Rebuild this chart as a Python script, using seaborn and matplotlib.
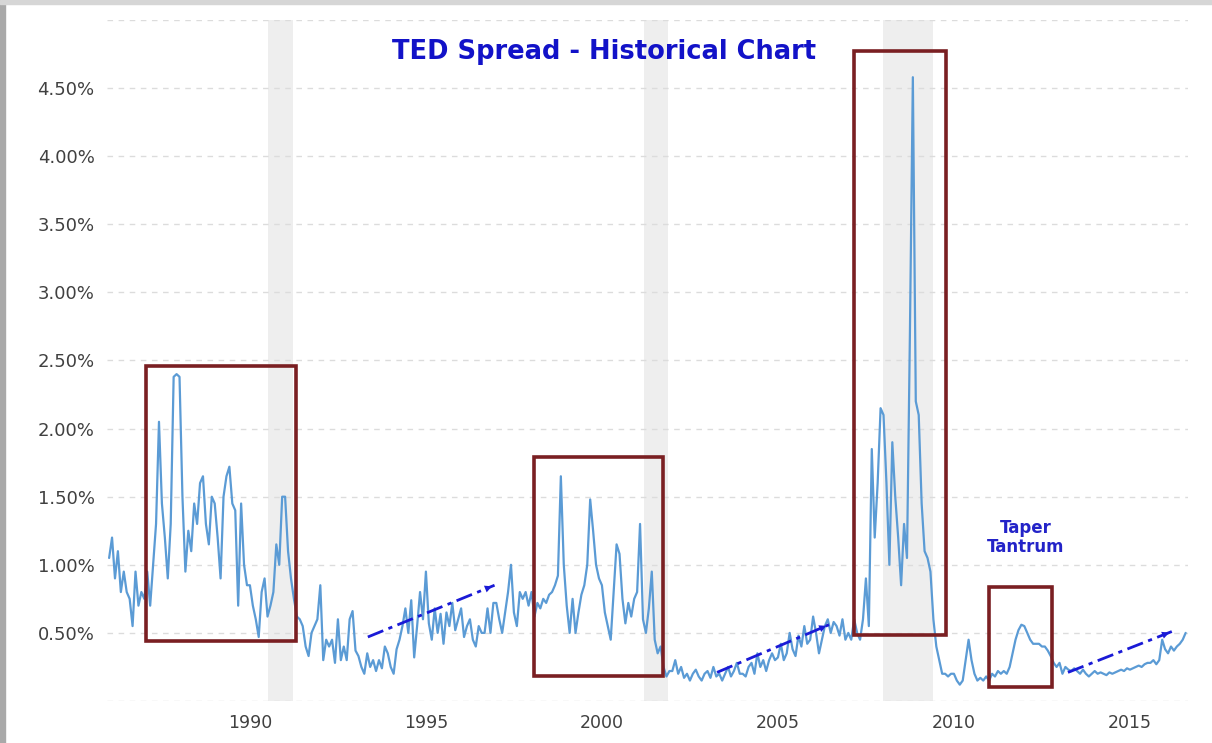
import numpy as np
import pandas as pd
import seaborn as sns
import matplotlib.pyplot as plt
from matplotlib.patches import Rectangle

# monthly TED spread (%), Jan 1986 onwards
start_year = 1986
spread = [
    1.05, 1.20, 0.90, 1.10, 0.80, 0.95, 0.80, 0.75, 0.55, 0.95, 0.70, 0.80,  # 1986
    0.75, 0.95, 0.70, 1.00, 1.30, 2.05, 1.45, 1.20, 0.90, 1.30, 2.38, 2.40,  # 1987
    2.38, 1.50, 0.95, 1.25, 1.10, 1.45, 1.30, 1.60, 1.65, 1.30, 1.15, 1.50,  # 1988
    1.45, 1.20, 0.90, 1.50, 1.65, 1.72, 1.45, 1.40, 0.70, 1.45, 1.00, 0.85,  # 1989
    0.85, 0.70, 0.60, 0.47, 0.80, 0.90, 0.62, 0.70, 0.80, 1.15, 1.00, 1.50,  # 1990
    1.50, 1.10, 0.90, 0.75, 0.62, 0.60, 0.55, 0.40, 0.33, 0.50, 0.55, 0.60,  # 1991
    0.85, 0.30, 0.45, 0.40, 0.45, 0.28, 0.60, 0.30, 0.40, 0.30, 0.60, 0.66,  # 1992
    0.37, 0.33, 0.25, 0.20, 0.35, 0.25, 0.30, 0.22, 0.30, 0.24, 0.40, 0.35,  # 1993
    0.25, 0.20, 0.38, 0.45, 0.55, 0.68, 0.50, 0.74, 0.32, 0.55, 0.80, 0.60,  # 1994
    0.95, 0.57, 0.45, 0.68, 0.50, 0.64, 0.42, 0.65, 0.55, 0.72, 0.52, 0.60,  # 1995
    0.68, 0.47, 0.55, 0.60, 0.45, 0.40, 0.55, 0.50, 0.50, 0.68, 0.50, 0.72,  # 1996
    0.72, 0.60, 0.50, 0.65, 0.80, 1.00, 0.65, 0.55, 0.80, 0.75, 0.80, 0.70,  # 1997
    0.80, 0.62, 0.72, 0.68, 0.75, 0.72, 0.78, 0.80, 0.85, 0.92, 1.65, 1.00,  # 1998
    0.70, 0.50, 0.75, 0.50, 0.65, 0.78, 0.85, 1.00, 1.48, 1.25, 1.00, 0.90,  # 1999
    0.85, 0.65, 0.55, 0.45, 0.80, 1.15, 1.08, 0.75, 0.57, 0.72, 0.62, 0.75,  # 2000
    0.80, 1.30, 0.60, 0.50, 0.68, 0.95, 0.45, 0.35, 0.40, 0.25, 0.18, 0.22,  # 2001
    0.22, 0.30, 0.20, 0.25, 0.17, 0.20, 0.15, 0.20, 0.23, 0.18, 0.15, 0.20,  # 2002
    0.22, 0.17, 0.25, 0.18, 0.20, 0.15, 0.20, 0.25, 0.18, 0.22, 0.28, 0.20,  # 2003
    0.20, 0.18, 0.25, 0.28, 0.20, 0.35, 0.25, 0.30, 0.22, 0.30, 0.35, 0.30,  # 2004
    0.32, 0.42, 0.30, 0.35, 0.50, 0.38, 0.33, 0.48, 0.40, 0.55, 0.42, 0.45,  # 2005
    0.62, 0.50, 0.35, 0.45, 0.55, 0.60, 0.50, 0.58, 0.55, 0.48, 0.60, 0.45,  # 2006
    0.50, 0.45, 0.60, 0.50, 0.45, 0.60, 0.90, 0.55, 1.85, 1.20, 1.60, 2.15,  # 2007
    2.10, 1.60, 1.00, 1.90, 1.50, 1.20, 0.85, 1.30, 1.05, 2.70, 4.58, 2.20,  # 2008
    2.10, 1.45, 1.10, 1.05, 0.95, 0.60, 0.40, 0.30, 0.20, 0.20, 0.18, 0.20,  # 2009
    0.20, 0.15, 0.12, 0.15, 0.30, 0.45, 0.30, 0.20, 0.15, 0.17, 0.15, 0.18,  # 2010
    0.15, 0.20, 0.18, 0.22, 0.20, 0.22, 0.20, 0.25, 0.35, 0.45, 0.52, 0.56,  # 2011
    0.55, 0.50, 0.45, 0.42, 0.42, 0.42, 0.40, 0.40, 0.37, 0.33, 0.28, 0.25,  # 2012
    0.28, 0.20, 0.25, 0.23, 0.22, 0.24, 0.22, 0.20, 0.23, 0.20, 0.18, 0.20,  # 2013
    0.22, 0.20, 0.21, 0.20, 0.19, 0.21, 0.20, 0.21, 0.22, 0.23, 0.22, 0.24,  # 2014
    0.23, 0.24, 0.25, 0.26, 0.25, 0.27, 0.28, 0.28, 0.30, 0.27, 0.30, 0.45,  # 2015
    0.38, 0.35, 0.40, 0.37, 0.40, 0.42, 0.45, 0.50,                          # 2016
]

# recessions (grey bands), highlight boxes and trend arrows
recessions = [(1990.5, 1991.22), (2001.2, 2001.88), (2007.98, 2009.4)]
boxes = [(1987.05, 1991.31, 0.44, 2.46),
         (1998.07, 2001.73, 0.18, 1.79),
         (2007.16, 2009.77, 0.485, 4.77),
         (2010.99, 2012.78, 0.10, 0.84)]
arrows = [((1993.35, 0.47), (1996.95, 0.85)),
          ((2003.27, 0.21), (2006.45, 0.56)),
          ((2013.24, 0.21), (2016.19, 0.51))]
y_ticks = [0, 0.5, 1.0, 1.5, 2.0, 2.5, 3.0, 3.5, 4.0, 4.5, 5.0]
x_ticks = [1990, 1995, 2000, 2005, 2010, 2015]

df = pd.DataFrame({'year': start_year + np.arange(len(spread)) / 12.0,
                   'spread': spread})

sns.set_style('white')
fig = plt.figure(figsize=(12.12, 7.43), dpi=100)
ax = fig.add_axes([107 / 1212, 42 / 743, 1081 / 1212, 681 / 743])

for a, b in recessions:
    ax.axvspan(a, b, color='#eeeeee', lw=0, zorder=0)

sns.lineplot(data=df, x='year', y='spread', ax=ax, color='#5b9bd5',
             linewidth=1.6, zorder=3)

for x0, x1, y0, y1 in boxes:
    ax.add_patch(Rectangle((x0, y0), x1 - x0, y1 - y0, fill=False,
                           edgecolor='#7a1f22', lw=2.6, zorder=4))

for (sx, sy), (ex, ey) in arrows:
    ax.plot([sx, ex], [sy, ey], ls=(0, (6, 2, 1.5, 2)), color='#1a1ad6',
            lw=2, zorder=5)
    ax.annotate('', xy=(ex, ey), xytext=(ex - (ex - sx) * 0.05, ey - (ey - sy) * 0.05),
                arrowprops=dict(arrowstyle='-|>', color='#1a1ad6', lw=0,
                                mutation_scale=13), zorder=5)

ax.text(2012.05, 1.2, 'Taper\nTantrum', ha='center', va='center', color='#2323c8',
        fontsize=12, fontweight='bold', linespacing=1.05)

ax.set_xlim(1985.94, 2016.65)
ax.set_ylim(0, 5.0)
ax.set_yticks(y_ticks)
ax.set_yticklabels(['' if v in (0, 5.0) else f'{v:.2f}%' for v in y_ticks])
ax.set_xticks(x_ticks)
ax.set_xticklabels([str(v) for v in x_ticks])
ax.tick_params(axis='y', length=0, pad=9, labelsize=13, labelcolor='#404040')
ax.tick_params(axis='x', length=0, pad=9, labelsize=12.5, labelcolor='#404040')
ax.grid(axis='y', color='#dcdcdc', ls=(0, (4, 4)), lw=1)
ax.grid(axis='x', visible=False)
ax.set_axisbelow(True)
ax.set_xlabel('')
ax.set_ylabel('')
for s in ax.spines.values():
    s.set_visible(False)

fig.text(0.498, 0.930, 'TED Spread - Historical Chart', ha='center', va='center',
         color='#1212c8', fontsize=18.5, fontweight='bold')

# grey frame of the screenshot
fig.patches.append(Rectangle((0, 0), 5 / 1212, 1, transform=fig.transFigure,
                             color='#a9a9a9', zorder=10))
fig.patches.append(Rectangle((0, 1 - 4 / 743), 1, 4 / 743, transform=fig.transFigure,
                             color='#d6d6d6', zorder=10))

fig.savefig('out.png', dpi=100)
